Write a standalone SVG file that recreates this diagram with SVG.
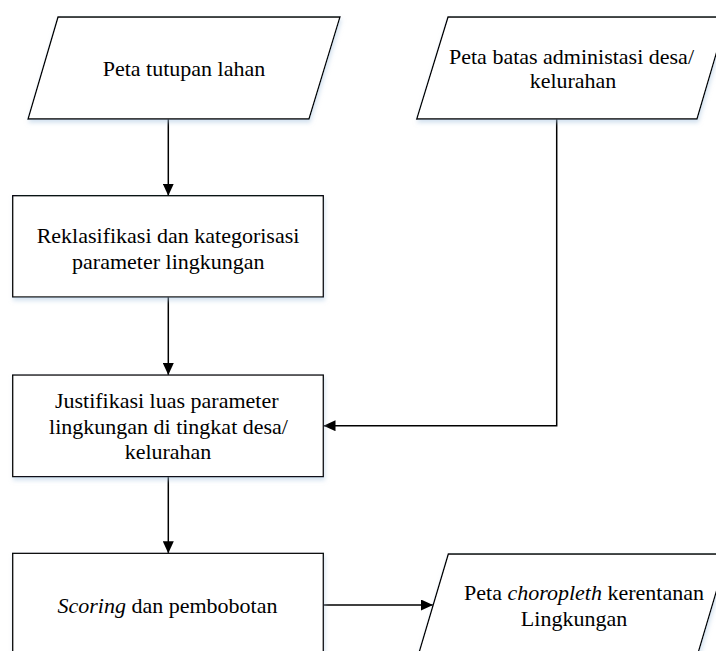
<svg xmlns="http://www.w3.org/2000/svg" width="716" height="651" viewBox="0 0 716 651">
<style>
.shape{fill:#fff;stroke:#000;stroke-width:1.3;filter:url(#sh)}
.t{font-family:"Liberation Serif","Times New Roman",serif;font-size:22px;fill:#000;text-anchor:middle}
.i{font-style:italic}
.c{fill:none;stroke:#000;stroke-width:1.5}
</style>
<defs>
<filter id="sh" x="-10%" y="-10%" width="120%" height="130%">
<feDropShadow dx="1" dy="3" stdDeviation="2" flood-color="#a8c4e0" flood-opacity="0.5"/>
</filter>
<marker id="ah" markerUnits="userSpaceOnUse" markerWidth="12" markerHeight="11" refX="12" refY="5.5" orient="auto">
<path d="M0,0 L12,5.5 L0,11 Z" fill="#000"/>
</marker>
</defs>
<rect width="716" height="651" fill="#fff"/>
<g id="connectors">
<line class="c" x1="168.3" y1="119" x2="168.3" y2="195.7" marker-end="url(#ah)"/>
<line class="c" x1="168.3" y1="297" x2="168.3" y2="375" marker-end="url(#ah)"/>
<polyline class="c" points="556.7,119 556.7,425.7 323.5,425.7" marker-end="url(#ah)"/>
<line class="c" x1="168.3" y1="476.7" x2="168.3" y2="553.3" marker-end="url(#ah)"/>
<line class="c" x1="323.3" y1="605" x2="433" y2="605" marker-end="url(#ah)"/>
</g>
<g id="peta-tutupan">
<polygon class="shape" points="58,17 340,17 309,119 28,119"/>
<text class="t" x="184" y="76">Peta tutupan lahan</text>
</g>
<g id="peta-batas">
<polygon class="shape" points="448,17 727,17 697,119 416.7,119"/>
<text class="t" x="571.5" y="64.3">Peta batas administasi desa/</text>
<text class="t" x="573" y="87.5">kelurahan</text>
</g>
<g id="reklasifikasi">
<rect class="shape" x="12.7" y="195.7" width="310.6" height="101.3"/>
<text class="t" x="168" y="243.3">Reklasifikasi dan kategorisasi</text>
<text class="t" x="168.3" y="269.3">parameter lingkungan</text>
</g>
<g id="justifikasi">
<rect class="shape" x="12.7" y="375" width="310.6" height="101.7"/>
<text class="t" x="166.7" y="408.3">Justifikasi luas parameter</text>
<text class="t" x="168.5" y="434">lingkungan di tingkat desa/</text>
<text class="t" x="168" y="459.3">kelurahan</text>
</g>
<g id="scoring">
<rect class="shape" x="12.7" y="553.3" width="310.6" height="101.5"/>
<text class="t" x="167.5" y="613.3"><tspan class="i">Scoring</tspan> dan pembobotan</text>
</g>
<g id="peta-choropleth">
<polygon class="shape" points="448.3,554 727.5,554 697.5,655 418.3,655"/>
<text class="t" x="584" y="600">Peta <tspan class="i">choropleth</tspan> kerentanan</text>
<text class="t" x="574" y="626">Lingkungan</text>
</g>
</svg>
